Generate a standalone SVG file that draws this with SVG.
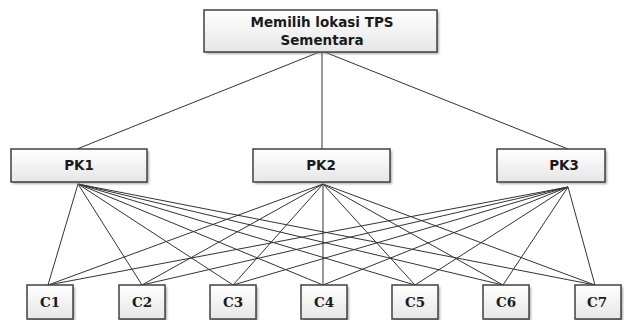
<svg xmlns="http://www.w3.org/2000/svg" width="624" height="320" viewBox="0 0 624 320">
<defs>
<linearGradient id="g" x1="0" y1="0" x2="0" y2="1">
<stop offset="0" stop-color="#ffffff"/>
<stop offset="1" stop-color="#e6e6e6"/>
</linearGradient>
<filter id="sh" x="-10%" y="-10%" width="130%" height="140%">
<feGaussianBlur stdDeviation="1.2"/>
</filter>
<style>
.box{fill:url(#g);stroke:#404040;stroke-width:1.5}
.shadow{fill:#8a8a8a;opacity:0.7;filter:url(#sh)}
.t{font-family:"DejaVu Sans",Verdana,sans-serif;font-weight:bold;font-size:13.5px;fill:#1a1a1a;text-anchor:middle}
.c{font-family:"DejaVu Serif","Liberation Serif",serif;font-weight:bold;font-size:13.5px;fill:#1a1a1a;text-anchor:middle}
.e{stroke:#333;stroke-width:1;fill:none}
</style>
</defs>
<rect width="624" height="320" fill="#fff"/>
<g id="connectors" class="e">
<line x1="322" y1="51" x2="77" y2="149"/>
<line x1="322" y1="51" x2="322" y2="149"/>
<line x1="322" y1="51" x2="568" y2="149"/>
<line x1="78" y1="184" x2="48" y2="285"/>
<line x1="78" y1="184" x2="142" y2="285"/>
<line x1="78" y1="184" x2="233" y2="285"/>
<line x1="78" y1="184" x2="323" y2="285"/>
<line x1="78" y1="184" x2="415" y2="285"/>
<line x1="78" y1="184" x2="503" y2="285"/>
<line x1="78" y1="184" x2="595" y2="285"/>
<line x1="323" y1="184" x2="48" y2="285"/>
<line x1="323" y1="184" x2="142" y2="285"/>
<line x1="323" y1="184" x2="233" y2="285"/>
<line x1="323" y1="184" x2="323" y2="285"/>
<line x1="323" y1="184" x2="415" y2="285"/>
<line x1="323" y1="184" x2="503" y2="285"/>
<line x1="323" y1="184" x2="595" y2="285"/>
<line x1="568" y1="187" x2="48" y2="285"/>
<line x1="568" y1="187" x2="142" y2="285"/>
<line x1="568" y1="187" x2="233" y2="285"/>
<line x1="568" y1="187" x2="323" y2="285"/>
<line x1="568" y1="187" x2="415" y2="285"/>
<line x1="568" y1="187" x2="503" y2="285"/>
<line x1="568" y1="187" x2="595" y2="285"/>
</g>
<g id="goal">
<rect class="shadow" x="206" y="12" width="233" height="42"/>
<rect class="box" x="204" y="10" width="233" height="42"/>
<text class="t" x="322" y="26.5">Memilih lokasi TPS</text>
<text class="t" x="322" y="45">Sementara</text>
</g>
<g id="pk1">
<rect class="shadow" x="13" y="151" width="136" height="33"/>
<rect class="box" x="11" y="149" width="136" height="33"/>
<text class="t" x="79" y="170">PK1</text>
</g>
<g id="pk2">
<rect class="shadow" x="255" y="151" width="137" height="33"/>
<rect class="box" x="253" y="149" width="137" height="33"/>
<text class="t" x="321" y="170">PK2</text>
</g>
<g id="pk3">
<rect class="shadow" x="499" y="151" width="108" height="33"/>
<rect class="box" x="497" y="149" width="108" height="33"/>
<text class="t" x="564" y="170">PK3</text>
</g>
<g id="c1">
<rect class="shadow" x="29" y="287" width="46" height="34"/>
<rect class="box" x="27" y="285" width="46" height="34"/>
<text class="c" x="50" y="306.5">C1</text>
</g>
<g id="c2">
<rect class="shadow" x="121" y="287" width="46" height="34"/>
<rect class="box" x="119" y="285" width="46" height="34"/>
<text class="c" x="142" y="306.5">C2</text>
</g>
<g id="c3">
<rect class="shadow" x="212" y="287" width="46" height="34"/>
<rect class="box" x="210" y="285" width="46" height="34"/>
<text class="c" x="233" y="306.5">C3</text>
</g>
<g id="c4">
<rect class="shadow" x="303" y="287" width="46" height="34"/>
<rect class="box" x="301" y="285" width="46" height="34"/>
<text class="c" x="324" y="306.5">C4</text>
</g>
<g id="c5">
<rect class="shadow" x="394" y="287" width="46" height="34"/>
<rect class="box" x="392" y="285" width="46" height="34"/>
<text class="c" x="415" y="306.5">C5</text>
</g>
<g id="c6">
<rect class="shadow" x="485" y="287" width="46" height="34"/>
<rect class="box" x="483" y="285" width="46" height="34"/>
<text class="c" x="506" y="306.5">C6</text>
</g>
<g id="c7">
<rect class="shadow" x="577" y="287" width="46" height="34"/>
<rect class="box" x="575" y="285" width="46" height="34"/>
<text class="c" x="597" y="306.5">C7</text>
</g>
</svg>
